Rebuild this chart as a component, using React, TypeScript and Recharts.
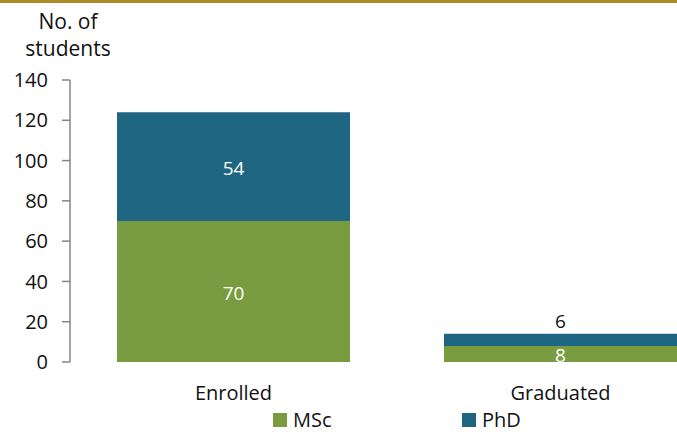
import React from "react";
import { BarChart, Bar, XAxis, YAxis, LabelList } from "recharts";

const categories = ["Enrolled", "Graduated"];
const mscValues = [70, 8];
const phdValues = [54, 6];
const yTicks = [0, 20, 40, 60, 80, 100, 120, 140];

const series = [
  { key: "msc", name: "MSc", color: "#7A9C40", values: mscValues },
  { key: "phd", name: "PhD", color: "#1F6683", values: phdValues },
];

const data = categories.map((cat, i) => ({
  cat,
  msc: mscValues[i],
  phd: phdValues[i],
}));

const FONT = "'Open Sans', sans-serif";

// puts the value inside the segment, or above it when the segment is too thin
const segmentLabel = (props: any) => {
  const { x, y, width, height, value } = props;
  const cx = x + width / 2;
  if (height < 14) {
    return (
      <text x={cx} y={y - 13} textAnchor="middle" dominantBaseline="central" fill="#111" fontSize={19} fontFamily={FONT}>
        {value}
      </text>
    );
  }
  return (
    <text x={cx} y={y + height / 2 + 1} textAnchor="middle" dominantBaseline="central" fill="#fff" fontSize={19} fontFamily={FONT}>
      {value}
    </text>
  );
};

export default function App() {
  return (
    <div
      style={{
        position: "absolute",
        left: 0,
        top: 0,
        width: 677,
        height: 432,
        overflow: "hidden",
        background: "#fff",
        fontFamily: FONT,
      }}
    >
      <div style={{ position: "absolute", left: 0, top: 0, width: 677, height: 3, background: "#B08B2A" }} />
      <div
        style={{
          position: "absolute",
          left: 16,
          top: 8,
          width: 104,
          textAlign: "center",
          fontSize: 21,
          lineHeight: "27px",
          color: "#111",
        }}
      >
        No. of
        <br />
        students
      </div>
      <BarChart
        width={724}
        height={432}
        data={data}
        margin={{ top: 80, right: 0, bottom: 0, left: 0 }}
        barSize={233}
        style={{ position: "absolute", left: 0, top: 0 }}
      >
        <YAxis
          width={70}
          domain={[0, 140]}
          ticks={yTicks}
          interval={0}
          axisLine={{ stroke: "#868686", strokeWidth: 1.5 }}
          tickLine={{ stroke: "#868686", strokeWidth: 1.5 }}
          tickSize={8}
          tickMargin={14}
          tick={{ fill: "#111", fontSize: 20, fontFamily: FONT }}
        />
        <XAxis
          dataKey="cat"
          height={70}
          axisLine={false}
          tickLine={false}
          tick={{ fill: "#111", fontSize: 20, fontFamily: FONT }}
          tickMargin={18}
        />
        {series.map((s) => (
          <Bar key={s.key} dataKey={s.key} name={s.name} stackId="a" fill={s.color} isAnimationActive={false}>
            <LabelList dataKey={s.key} content={segmentLabel} />
          </Bar>
        ))}
      </BarChart>
      <div style={{ position: "absolute", left: 273, top: 409, display: "flex" }}>
        {series.map((s) => (
          <div
            key={s.key}
            style={{ width: 189, height: 22, display: "flex", alignItems: "center", fontSize: 20, lineHeight: "22px", color: "#111" }}
          >
            <span style={{ display: "inline-block", width: 14, height: 14, background: s.color, marginRight: 6 }} />
            {s.name}
          </div>
        ))}
      </div>
    </div>
  );
}
